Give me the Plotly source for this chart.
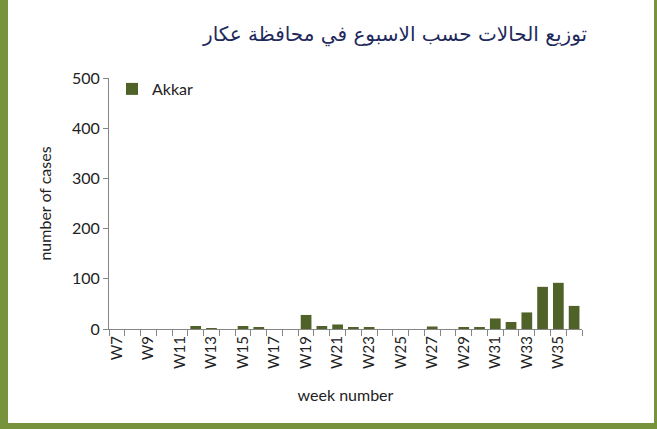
"""Weekly case distribution for Akkar governorate."""

import plotly.graph_objects as go

WEEK_LABELS = [f"W{n}" for n in range(7, 37)]
AKKAR_CASES = [0, 0, 0, 0, 0, 6, 2, 0, 6, 3, 0, 0, 28, 6, 9,
               3, 3, 0, 0, 0, 5, 0, 3, 3, 21, 14, 33, 84, 92, 46]
Y_TICKS = [0, 100, 200, 300, 400, 500]
TITLE = "توزيع الحالات حسب الاسبوع في محافظة عكار"

BAR_COLOR = "#4f6228"
FRAME_COLOR = "#77933c"
TITLE_COLOR = "#1f2a5c"
AXIS_COLOR = "#868686"
FONT = "Lato, 'Open Sans', sans-serif"

W, H = 657, 429
L, R, T, B = 109, 75, 78, 100

week_numbers = [int(label[1:]) for label in WEEK_LABELS]


def px(x):
    return (x - L) / (W - L - R)


def py(y):
    return (H - B - y) / (H - T - B)


fig = go.Figure()
fig.add_bar(x=week_numbers, y=AKKAR_CASES, name="Akkar", marker_color=BAR_COLOR,
            marker_line_width=0, width=0.68)

# green frame on left, right and bottom edges
for x0, x1, y0, y1 in ((0, 8, 0, H), (654, W, 0, H), (0, W, 423, H)):
    fig.add_shape(type="rect", xref="paper", yref="paper", x0=px(x0), x1=px(x1),
                  y0=py(y1), y1=py(y0), fillcolor=FRAME_COLOR, line_width=0, layer="above")

fig.add_annotation(text=TITLE, xref="paper", yref="paper", x=px(394), y=py(35),
                   showarrow=False, xanchor="center", yanchor="middle",
                   font={"family": "DejaVu Sans", "size": 20, "color": TITLE_COLOR})

fig.update_xaxes(
    range=[week_numbers[0] - 0.5, week_numbers[-1] + 0.5],
    tickmode="array", tickvals=week_numbers[::2], ticktext=WEEK_LABELS[::2],
    tickangle=-90, ticks="", showgrid=False, zeroline=False,
    showline=True, linecolor=AXIS_COLOR, linewidth=1,
    minor={"tick0": week_numbers[0] - 0.5, "dtick": 1, "ticks": "outside",
           "ticklen": 6, "tickcolor": AXIS_COLOR, "showgrid": False},
    tickfont={"family": FONT, "size": 15, "color": "#222"},
    title={"text": "week number", "font": {"family": FONT, "size": 16, "color": "#222"}, "standoff": 21},
)
fig.update_yaxes(
    range=[0, 500], tickmode="array", tickvals=Y_TICKS,
    ticks="outside", ticklen=5, tickcolor=AXIS_COLOR, showgrid=False, zeroline=False,
    showline=True, linecolor=AXIS_COLOR, linewidth=1,
    tickfont={"family": FONT, "size": 16, "color": "#222"},
    title={"text": "number of cases", "font": {"family": FONT, "size": 16, "color": "#222"}, "standoff": 16},
)
fig.update_layout(
    width=W, height=H, margin={"l": L, "r": R, "t": T, "b": B},
    paper_bgcolor="white", plot_bgcolor="white", showlegend=True,
    legend={"x": px(112), "y": py(72), "xanchor": "left", "yanchor": "top",
            "bgcolor": "rgba(0,0,0,0)", "font": {"family": FONT, "size": 16, "color": "#222"},
            "itemwidth": 30},
)
fig.write_html("out.html", config={"displayModeBar": False},
               post_script="document.body.style.margin = '0';")
